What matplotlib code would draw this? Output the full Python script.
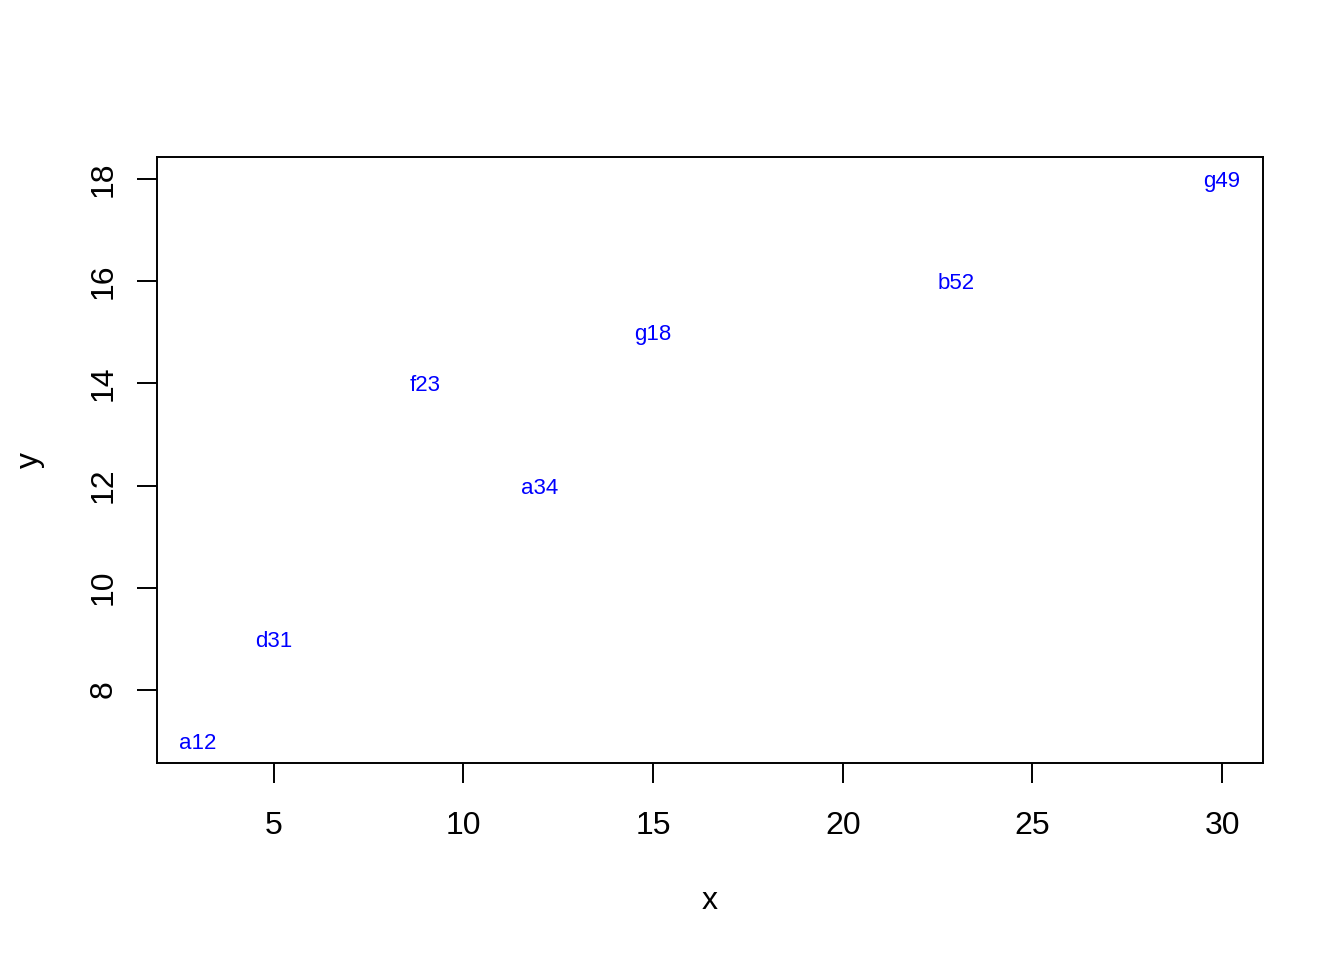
import matplotlib
matplotlib.use("Agg")
import matplotlib.pyplot as plt

x = [3, 5, 9, 12, 15, 23, 30]
y = [7, 9, 14, 12, 15, 16, 18]
labels = ["a12", "d31", "f23", "a34", "g18", "b52", "g49"]
xticks = [5, 10, 15, 20, 25, 30]
yticks = [8, 10, 12, 14, 16, 18]

plt.rcParams['font.family'] = ['Liberation Sans', 'DejaVu Sans']

W, H = 1344, 960
fig = plt.figure(figsize=(W / 100, H / 100), dpi=100)
ax = fig.add_axes([157 / W, 1 - 763 / H, (1263 - 157) / W, (763 - 157) / H])

for xi, yi, lab in zip(x, y, labels):
    ax.text(xi, yi, lab, color='blue', fontsize=16, ha='center', va='center_baseline')

xr = max(x) - min(x)
yr = max(y) - min(y)
ax.set_xlim(min(x) - 0.04 * xr, max(x) + 0.04 * xr)
ax.set_ylim(min(y) - 0.04 * yr, max(y) + 0.04 * yr)

ax.set_xticks(xticks)
ax.set_xticklabels([str(t) for t in xticks])
ax.set_yticks(yticks)
ax.set_yticklabels([str(t) for t in yticks], rotation=90, va='center')
ax.tick_params(axis='x', length=14.4, width=1.4, labelsize=23, pad=20.5)
ax.tick_params(axis='y', length=14.4, width=1.4, labelsize=23, pad=13.5)
for s in ax.spines.values():
    s.set_linewidth(1.4)

fig.text(710 / W, 1 - 901 / H, "x", fontsize=23, ha='center', va='center')
fig.text(30 / W, 1 - 460 / H, "y", fontsize=23, ha='center', va='center', rotation=90)

fig.savefig("out.png", dpi=100, facecolor='white')
